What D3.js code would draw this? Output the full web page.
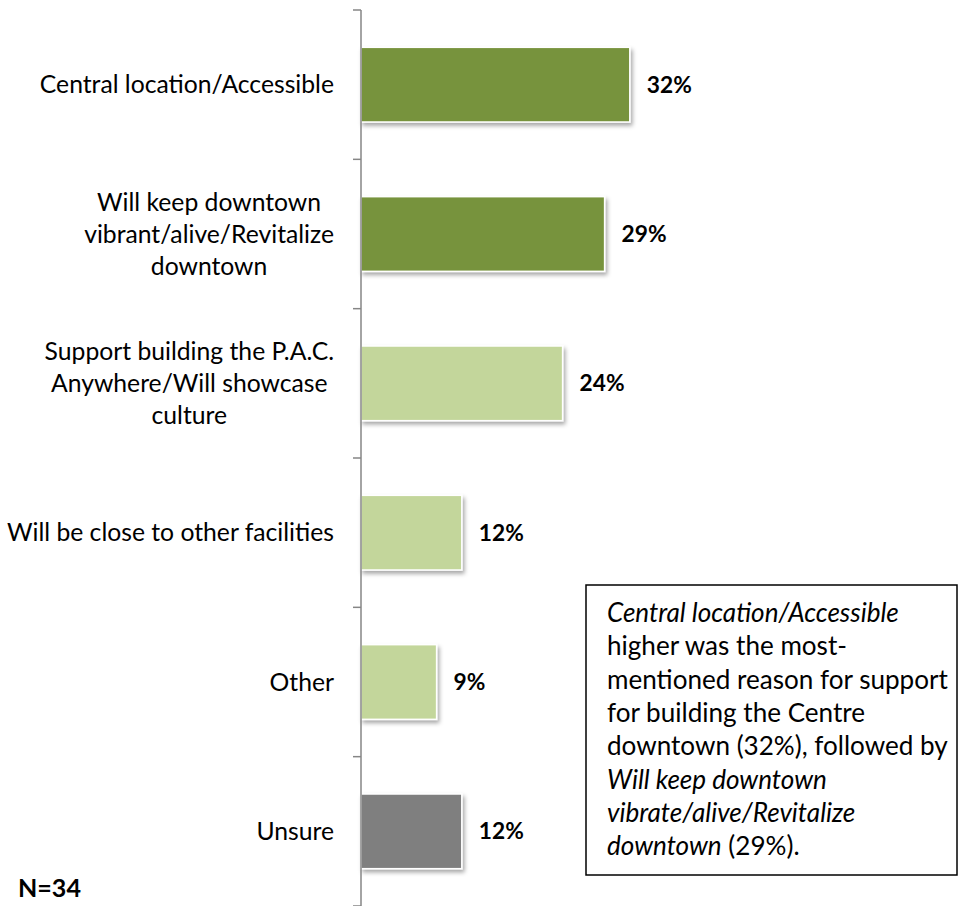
<!DOCTYPE html>
<html>
<head>
<meta charset="utf-8">
<script src="https://cdn.jsdelivr.net/npm/d3@7"></script>
<style>
  html, body { margin: 0; padding: 0; background: #fff; }
  svg { display: block; }
  text { font-family: Lato, "Open Sans", "Liberation Sans", sans-serif; fill: #000; }
</style>
</head>
<body>
<svg id="chart" width="959" height="906"></svg>
<script>
// ---- data ----
const categories = [
  ["Central location/Accessible"],
  ["Will keep downtown", "vibrant/alive/Revitalize", "downtown"],
  ["Support building the P.A.C.", "Anywhere/Will showcase", "culture"],
  ["Will be close to other facilities"],
  ["Other"],
  ["Unsure"]
];
const values = [32, 29, 24, 12, 9, 12];
const barColors = ["#77933C", "#77933C", "#C3D69B", "#C3D69B", "#C3D69B", "#7F7F7F"];
const sampleNote = "N=34";
const noteLines = [
  [["Central location/Accessible", true]],
  [["higher was the most-", false]],
  [["mentioned reason for support", false]],
  [["for building the Centre", false]],
  [["downtown (32%), followed by", false]],
  [["Will keep downtown", true]],
  [["vibrate/alive/Revitalize", true]],
  [["downtown", true], [" (29%).", false]]
];

// ---- layout ----
const svg = d3.select("#chart");
const axisX = 361;

const y = d3.scaleBand()
  .domain(d3.range(categories.length))
  .range([10, 906])
  .paddingInner(0.5)
  .paddingOuter(0.25);

const x = d3.scaleLinear().domain([0, 100]).range([axisX, axisX + 840]);

// font fitting helper
const meas = svg.append("text").attr("x", -1000).attr("y", -1000);
function fitSize(str, target, weight, style) {
  meas.attr("font-size", 100).attr("font-weight", weight || "normal")
      .attr("font-style", style || "normal").text(str);
  const w = meas.node().getComputedTextLength();
  return 100 * target / w;
}
const labelSize = fitSize("vibrant/alive/Revitalize", 250);
const pctSize = fitSize("32%", 45, "bold");
const boxSize = fitSize("mentioned reason for support", 341);
const nSize = fitSize("N=34", 63, "bold");
meas.remove();

// drop shadow filter
const defs = svg.append("defs");
const f = defs.append("filter").attr("id", "shadow")
  .attr("x", "-10%").attr("y", "-10%").attr("width", "130%").attr("height", "140%");
f.append("feDropShadow").attr("dx", 2).attr("dy", 3).attr("stdDeviation", 2)
  .attr("flood-color", "#000").attr("flood-opacity", 0.35);

// bars
svg.append("g").selectAll("rect").data(values).join("rect")
  .attr("x", x(0))
  .attr("y", (d, i) => y(i))
  .attr("width", d => x(d) - x(0))
  .attr("height", y.bandwidth())
  .attr("fill", (d, i) => barColors[i])
  .attr("stroke", "#ffffff")
  .attr("stroke-width", 1.5)
  .attr("filter", "url(#shadow)");

// axis line and ticks at category boundaries
const gap = (y.step() - y.bandwidth()) / 2;
const bounds = d3.range(categories.length).map(i => y(i) - gap).concat([y(categories.length - 1) + y.bandwidth() + gap]);
const ax = svg.append("g");
ax.append("line").attr("x1", axisX).attr("x2", axisX).attr("y1", bounds[0]).attr("y2", bounds[bounds.length - 1])
  .attr("stroke", "#868686").attr("stroke-width", 1.5);
ax.selectAll("line.tick").data(bounds).join("line").attr("class", "tick")
  .attr("x1", axisX - 8).attr("x2", axisX).attr("y1", d => d).attr("y2", d => d)
  .attr("stroke", "#868686").attr("stroke-width", 1.5);

// category labels (centered block, right-aligned block edge)
const labelRight = 334;
const lineGap = 32;
categories.forEach((lines, i) => {
  const cy = y(i) + y.bandwidth() / 2;
  const g = svg.append("g");
  const texts = lines.map((s, k) => g.append("text")
    .attr("font-size", labelSize)
    .attr("y", cy + (k - (lines.length - 1) / 2) * lineGap + labelSize * 0.35)
    .text(s));
  const maxW = d3.max(texts, t => t.node().getComputedTextLength());
  texts.forEach(t => t.attr("x", labelRight - maxW / 2).attr("text-anchor", "middle"));
});

// value labels
svg.append("g").selectAll("text").data(values).join("text")
  .attr("x", d => x(d) + 17)
  .attr("y", (d, i) => y(i) + y.bandwidth() / 2 + pctSize * 0.35)
  .attr("font-size", pctSize)
  .attr("font-weight", "bold")
  .text(d => d + "%");

// N note
svg.append("text").attr("x", 18).attr("y", 897)
  .attr("font-size", nSize).attr("font-weight", "bold").text(sampleNote);

// annotation box
svg.append("rect").attr("x", 586).attr("y", 585).attr("width", 371).attr("height", 290)
  .attr("fill", "#fff").attr("stroke", "#000").attr("stroke-width", 1.5);
noteLines.forEach((parts, i) => {
  const t = svg.append("text").attr("x", 607).attr("y", 622 + i * 33.3)
    .attr("font-size", boxSize);
  parts.forEach(([s, it]) => t.append("tspan").attr("font-style", it ? "italic" : "normal").text(s));
});
</script>
</body>
</html>
